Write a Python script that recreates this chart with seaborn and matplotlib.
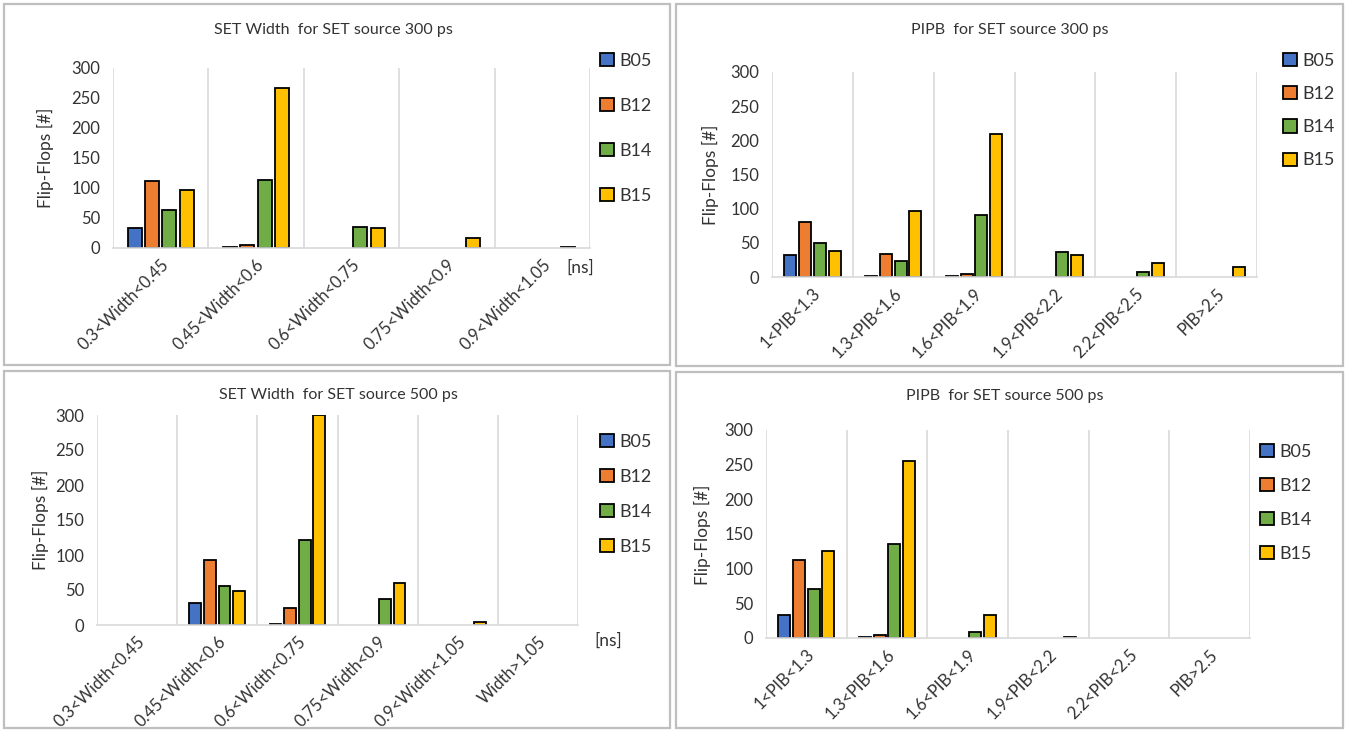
import numpy as np
import pandas as pd
import matplotlib
matplotlib.use("Agg")
import matplotlib.pyplot as plt
from matplotlib.patches import Rectangle
import seaborn as sns

# ── data ──
boards = ["B05", "B12", "B14", "B15"]
colors = ["#4472C4", "#ED7D31", "#70AD47", "#FFC000"]

width_300_cats = ["0.3<Width<0.45", "0.45<Width<0.6", "0.6<Width<0.75",
                  "0.75<Width<0.9", "0.9<Width<1.05"]
width_300_b05 = [33, 1, 0, 0, 0]
width_300_b12 = [112, 5, 0, 0, 0]
width_300_b14 = [64, 114, 35, 0, 0]
width_300_b15 = [96, 266, 34, 17, 2]

pipb_300_cats = ["1<PIB<1.3", "1.3<PIB<1.6", "1.6<PIB<1.9",
                 "1.9<PIB<2.2", "2.2<PIB<2.5", "PIB>2.5"]
pipb_300_b05 = [32, 1, 1, 0, 0, 0]
pipb_300_b12 = [81, 33, 5, 0, 0, 0]
pipb_300_b14 = [50, 24, 91, 37, 8, 0]
pipb_300_b15 = [38, 96, 209, 32, 20, 14]

width_500_cats = ["0.3<Width<0.45", "0.45<Width<0.6", "0.6<Width<0.75",
                  "0.75<Width<0.9", "0.9<Width<1.05", "Width>1.05"]
width_500_b05 = [0, 32, 2, 0, 0, 0]
width_500_b12 = [0, 93, 24, 0, 0, 0]
width_500_b14 = [0, 56, 121, 37, 0, 0]
width_500_b15 = [0, 48, 300, 60, 5, 0]

pipb_500_cats = ["1<PIB<1.3", "1.3<PIB<1.6", "1.6<PIB<1.9",
                 "1.9<PIB<2.2", "2.2<PIB<2.5", "PIB>2.5"]
pipb_500_b05 = [33, 1, 0, 0, 0, 0]
pipb_500_b12 = [113, 5, 0, 0, 0, 0]
pipb_500_b14 = [71, 135, 9, 0, 0, 0]
pipb_500_b15 = [126, 255, 33, 2, 0, 0]

sns.set_style("white")
plt.rcParams["font.family"] = ["Lato", "DejaVu Sans"]
TXT = "#333333"
GRID = "#D9D9D9"


def long_frame(cats, series):
    rows = []
    for board, vals in zip(boards, series):
        for c, v in zip(cats, vals):
            if v > 0:  # Excel draws nothing for empty cells
                rows.append({"range": c, "board": board, "count": v})
    return pd.DataFrame(rows)


panels = [
    # title, cats, series, axes box (px), legend anchor, labelspacing, unit label, ylabel pos, title pos
    ("SET Width  for SET source 300 ps", width_300_cats,
     [width_300_b05, width_300_b12, width_300_b14, width_300_b15],
     [113, 68, 590, 248], (600, 53), 1.6, (580, 268), (45, 158), (333, 30)),
    ("PIPB  for SET source 300 ps", pipb_300_cats,
     [pipb_300_b05, pipb_300_b12, pipb_300_b14, pipb_300_b15],
     [772, 72, 1257, 277], (1283, 53), 0.95, None, (710, 175), (1010, 30)),
    ("SET Width  for SET source 500 ps", width_500_cats,
     [width_500_b05, width_500_b12, width_500_b14, width_500_b15],
     [97, 415, 578, 625], (600, 434), 1.05, (608, 641), (40, 520), (338, 395)),
    ("PIPB  for SET source 500 ps", pipb_500_cats,
     [pipb_500_b05, pipb_500_b12, pipb_500_b14, pipb_500_b15],
     [766, 430, 1250, 638], (1260, 444), 1.0, None, (702, 535), (1005, 396)),
]

W, H = 1347, 731
fig = plt.figure(figsize=(W / 100, H / 100), dpi=100)

# grey frames round each chart
for x0, y0, x1, y1 in [(4, 4, 670, 365), (676, 4, 1343, 366),
                       (4, 371, 670, 728), (676, 372, 1343, 728)]:
    fig.add_artist(Rectangle((x0 / W, 1 - y1 / H), (x1 - x0) / W, (y1 - y0) / H,
                             transform=fig.transFigure, fill=False,
                             edgecolor="#BFBFBF", linewidth=1.6))

for title, cats, series, (l, t, r, b), (lx, ly), lsp, unit, (yx, yy), (tx, ty) in panels:
    ax = fig.add_axes([l / W, 1 - b / H, (r - l) / W, (b - t) / H])
    df = long_frame(cats, series)
    sns.barplot(data=df, x="range", y="count", hue="board", order=cats,
                hue_order=boards, palette=colors, saturation=1, width=0.73, gap=0.19,
                edgecolor="black", linewidth=1.3, ax=ax)
    ax.set_ylim(0, 300)
    ax.set_yticks(np.arange(0, 301, 50))
    ax.set_xlim(-0.5, len(cats) - 0.5)
    ax.set_xticks(np.arange(len(cats) + 1) - 0.5, minor=True)
    ax.grid(which="minor", axis="x", color=GRID, linewidth=1.2)
    ax.grid(which="major", visible=False)
    for s in ["top", "right", "left"]:
        ax.spines[s].set_visible(False)
    ax.spines["bottom"].set_color(GRID)
    ax.spines["bottom"].set_linewidth(1.2)
    ax.tick_params(axis="both", which="both", length=0, colors=TXT, labelsize=12)
    ax.tick_params(axis="y", pad=9)
    ax.tick_params(axis="x", pad=6)
    ax.set_xticks(np.arange(len(cats)))
    ax.set_xticklabels(cats, rotation=45, ha="right", va="top", rotation_mode="anchor")
    ax.set_xlabel("")
    ax.set_ylabel("")

    handles, labels = ax.get_legend_handles_labels()
    ax.legend(handles, labels, loc="upper left", bbox_to_anchor=(lx / W, 1 - ly / H),
              bbox_transform=fig.transFigure, frameon=False, fontsize=13,
              handlelength=0.75, handleheight=0.75, handletextpad=0.3,
              labelspacing=lsp, borderpad=0, borderaxespad=0, labelcolor=TXT)

    fig.text(tx / W, 1 - ty / H, title, ha="center", va="center", fontsize=11.5, color=TXT)
    fig.text(yx / W, 1 - yy / H, "Flip-Flops [#]", ha="center", va="center",
             rotation=90, fontsize=12.5, color=TXT)
    if unit is not None:
        fig.text(unit[0] / W, 1 - unit[1] / H, "[ns]", ha="center", va="center",
                 fontsize=12.5, color=TXT)

fig.savefig("out.png", dpi=100)
